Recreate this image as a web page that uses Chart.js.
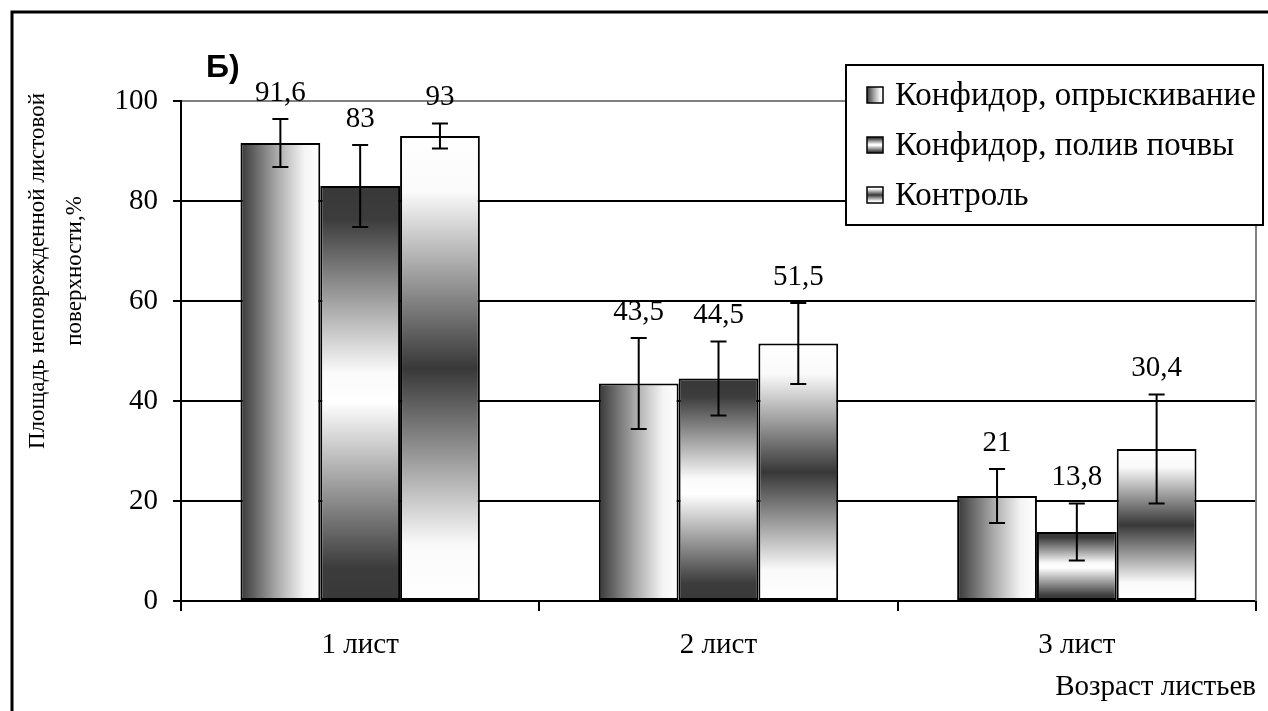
<!DOCTYPE html>
<html>
<head>
<meta charset="utf-8">
<script src="https://cdn.jsdelivr.net/npm/chart.js@4.4.1/dist/chart.umd.min.js"></script>
<style>
  html, body { margin: 0; padding: 0; background: #fff; }
  #wrap { width: 1268px; height: 711px; }
</style>
</head>
<body>
<div id="wrap"><canvas id="chart" width="1268" height="711"></canvas></div>
<script>
const categories = ['1 лист', '2 лист', '3 лист'];
const seriesNames = ['Конфидор, опрыскивание', 'Конфидор, полив почвы', 'Контроль'];
const spray = [91.6, 43.5, 21];
const sprayErr = [4.8, 9.1, 5.4];
const soil = [83, 44.5, 13.8];
const soilErr = [8.2, 7.4, 5.7];
const control = [93, 51.5, 30.4];
const controlErr = [2.5, 8.1, 10.9];
const yMin = 0;
const yMax = 100;
const yStep = 20;
const panelLetter = 'Б)';
const yTitle = ['Площадь неповрежденной листовой', 'поверхности,%'];
const xTitle = 'Возраст листьев';

const errors = [sprayErr, soilErr, controlErr];
const CAT_PCT = 0.668;
const SERIF = '"Liberation Serif", "Times New Roman", serif';
const DARK = '#383838';

Chart.defaults.font.family = SERIF;
Chart.defaults.color = '#000';

// gradient styles: 0 = horizontal dark->white, 1 = vertical dark-white-dark, 2 = vertical white-dark-white
function makeGradient(c, style, left, top, right, bottom) {
  let g;
  if (style === 0) {
    g = c.createLinearGradient(left, 0, right, 0);
    g.addColorStop(0, DARK);
    g.addColorStop(0.45, '#a8a8a8');
    g.addColorStop(0.8, '#f4f4f4');
    g.addColorStop(1, '#ffffff');
  } else if (style === 1) {
    g = c.createLinearGradient(0, top, 0, bottom);
    g.addColorStop(0, DARK);
    g.addColorStop(0.08, '#3c3c3c');
    g.addColorStop(0.45, '#fafafa');
    g.addColorStop(0.52, '#ffffff');
    g.addColorStop(0.92, '#3c3c3c');
    g.addColorStop(1, DARK);
  } else {
    g = c.createLinearGradient(0, top, 0, bottom);
    g.addColorStop(0, '#ffffff');
    g.addColorStop(0.12, '#fafafa');
    g.addColorStop(0.5, DARK);
    g.addColorStop(0.88, '#fafafa');
    g.addColorStop(1, '#ffffff');
  }
  return g;
}

function barFill(ctx) {
  if (ctx.type !== 'data') return '#888';
  const chart = ctx.chart;
  const xs = chart.scales.x, ys = chart.scales.y;
  if (!chart.chartArea || !xs || !ys) return '#888';
  const n = chart.data.datasets.length;
  const catW = xs.width / categories.length;
  const barW = catW * CAT_PCT / n;
  const left = xs.getPixelForValue(ctx.dataIndex) + (ctx.datasetIndex - n / 2) * barW;
  const top = ys.getPixelForValue(ctx.raw);
  const bottom = ys.getPixelForValue(0);
  return makeGradient(chart.ctx, ctx.datasetIndex, left, top, left + barW, bottom);
}

const decorations = {
  id: 'decorations',
  beforeDatasetsDraw(chart) {
    const c = chart.ctx, a = chart.chartArea;
    c.save();
    c.strokeStyle = '#808080';
    c.lineWidth = 2;
    c.beginPath();
    c.moveTo(a.right, a.top);
    c.lineTo(a.right, a.bottom);
    c.stroke();
    c.restore();
  },
  afterDatasetsDraw(chart) {
    const c = chart.ctx, ys = chart.scales.y;
    c.save();
    c.strokeStyle = '#000';
    c.lineWidth = 2;
    c.fillStyle = '#000';
    c.font = '29px ' + SERIF;
    c.textAlign = 'center';
    c.textBaseline = 'middle';
    chart.data.datasets.forEach((ds, i) => {
      const meta = chart.getDatasetMeta(i);
      meta.data.forEach((bar, j) => {
        const v = ds.data[j], e = errors[i][j];
        const yt = ys.getPixelForValue(v + e);
        const yb = ys.getPixelForValue(v - e);
        c.beginPath();
        c.moveTo(bar.x, yt); c.lineTo(bar.x, yb);
        c.moveTo(bar.x - 8, yt); c.lineTo(bar.x + 8, yt);
        c.moveTo(bar.x - 8, yb); c.lineTo(bar.x + 8, yb);
        c.stroke();
        c.fillText(String(v).replace('.', ','), bar.x, yt - 26);
      });
    });
    c.restore();
  },
  afterDraw(chart) {
    const c = chart.ctx;
    c.save();
    // outer frame
    c.strokeStyle = '#000';
    c.lineWidth = 3;
    c.beginPath();
    c.moveTo(12, 720);
    c.lineTo(12, 12);
    c.lineTo(1280, 12);
    c.stroke();

    // panel letter
    c.fillStyle = '#000';
    c.font = 'bold 32px "Liberation Sans", Arial, sans-serif';
    c.textAlign = 'left';
    c.textBaseline = 'alphabetic';
    c.fillText(panelLetter, 206, 77);

    // y title
    c.font = '23px ' + SERIF;
    c.textAlign = 'center';
    c.textBaseline = 'middle';
    [38, 75].forEach((x, k) => {
      c.save();
      c.translate(x, 271);
      c.rotate(-Math.PI / 2);
      c.fillText(yTitle[k], 0, 0);
      c.restore();
    });

    // legend
    const bx = 846, by = 65, bw = 417, bh = 160;
    c.fillStyle = '#fff';
    c.fillRect(bx, by, bw, bh);
    c.lineWidth = 2;
    c.strokeStyle = '#000';
    c.strokeRect(bx, by, bw, bh);
    c.font = '33px ' + SERIF;
    c.textAlign = 'left';
    c.textBaseline = 'middle';
    seriesNames.forEach((name, i) => {
      const cy = 95 + i * 50;
      const sx = 867, sy = cy - 8, s = 16;
      c.fillStyle = makeGradient(c, i, sx, sy, sx + s, sy + s);
      c.fillRect(sx, sy, s, s);
      c.lineWidth = 1.5;
      c.strokeRect(sx, sy, s, s);
      c.fillStyle = '#000';
      c.fillText(name, 895, cy + 1);
    });
    c.restore();
  }
};

new Chart(document.getElementById('chart'), {
  type: 'bar',
  data: {
    labels: categories,
    datasets: [spray, soil, control].map((d, i) => ({
      label: seriesNames[i],
      data: d,
      backgroundColor: barFill,
      borderColor: '#000',
      borderWidth: 2,
      borderSkipped: false,
      barPercentage: 1,
      categoryPercentage: CAT_PCT
    }))
  },
  options: {
    responsive: false,
    animation: false,
    devicePixelRatio: 1,
    layout: { padding: { top: 101, right: 12, left: 0, bottom: 0 } },
    plugins: {
      legend: { display: false },
      tooltip: { enabled: false }
    },
    scales: {
      x: {
        offset: true,
        afterFit: (s) => { s.height = 110; },
        grid: {
          offset: true,
          drawOnChartArea: false,
          tickLength: 10,
          color: '#000',
          lineWidth: 2
        },
        border: { color: '#000', width: 2 },
        ticks: { font: { size: 29 }, color: '#000', padding: 17 },
        title: {
          display: true,
          text: xTitle,
          align: 'end',
          font: { size: 29 },
          color: '#000',
          padding: { top: 0, bottom: 6 }
        }
      },
      y: {
        min: yMin,
        max: yMax,
        afterFit: (s) => { s.width = 181; },
        ticks: { stepSize: yStep, font: { size: 29 }, color: '#000', padding: 15 },
        grid: {
          color: (ctx) => ctx.tick && ctx.tick.value === yMax ? '#808080' : '#000',
          lineWidth: 2,
          tickColor: '#000',
          tickLength: 8
        },
        border: { color: '#000', width: 2 }
      }
    }
  },
  plugins: [decorations]
});
</script>
</body>
</html>
